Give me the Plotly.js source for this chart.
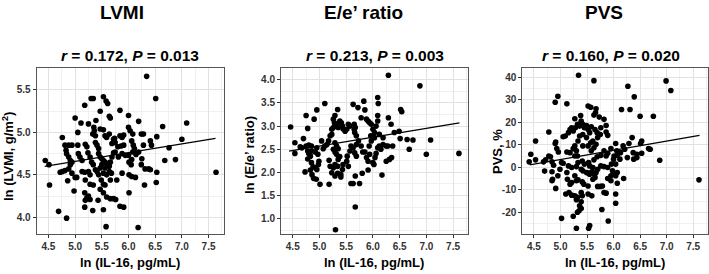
<!DOCTYPE html>
<html>
<head>
<meta charset="utf-8">
<script src="https://cdn.plot.ly/plotly-3.0.1.min.js"></script>
<style>html,body{margin:0;padding:0;background:#fff;}#chart{width:709px;height:274px;}</style>
</head>
<body>
<div id="chart"></div>
<script>
// ---------- data ----------
const panelTitles = ["LVMI", "E/e’ ratio", "PVS"];
const panelStats = ["<i>r</i> = 0.172, <i>P</i> = 0.013", "<i>r</i> = 0.213, <i>P</i> = 0.003", "<i>r</i> = 0.160, <i>P</i> = 0.020"];
const xAxisTitle = "ln (IL-16, pg/mL)";
const yAxisTitles = ["ln (LVMI, g/m<sup>2</sup>)", "ln (E/e’ ratio)", "PVS, %"];

const xTickVals = [4.5, 5.0, 5.5, 6.0, 6.5, 7.0, 7.5];
const xTickText = ["4.5", "5.0", "5.5", "6.0", "6.5", "7.0", "7.5"];
const lvmiTickVals = [4.0, 4.5, 5.0, 5.5];
const lvmiTickText = ["4.0", "4.5", "5.0", "5.5"];
const eeTickVals = [1.0, 1.5, 2.0, 2.5, 3.0, 3.5, 4.0];
const eeTickText = ["1.0", "1.5", "2.0", "2.5", "3.0", "3.5", "4.0"];
const pvsTickVals = [-20, -10, 0, 10, 20, 30, 40];
const pvsTickText = ["-20", "-10", "0", "10", "20", "30", "40"];

const lvmiX = [
6.34,6.51,5.30,5.34,5.53,5.58,5.61,5.18,5.47,5.84,
5.00,5.64,5.66,5.39,6.00,6.19,5.11,5.25,6.64,7.09,
5.35,5.36,5.33,5.38,5.47,5.53,5.56,5.59,5.64,5.72,
5.74,5.84,5.88,5.91,6.00,6.03,6.08,6.24,6.28,6.53,
7.00,5.05,4.76,4.81,4.88,4.94,5.05,5.19,5.22,5.38,
5.41,5.44,5.69,5.75,5.80,5.86,5.91,6.06,6.09,6.11,
6.08,6.28,6.41,6.43,6.19,6.14,6.76,4.44,4.51,4.83,
4.84,4.88,4.91,4.94,4.91,5.06,5.09,5.13,5.24,5.28,
5.31,5.34,5.44,5.47,5.50,5.53,5.56,5.59,5.61,5.64,
5.50,5.47,5.56,5.66,5.69,5.72,5.75,5.81,5.88,5.94,
6.00,6.01,6.05,6.06,6.25,6.24,6.68,6.88,4.72,4.76,
4.81,4.88,4.94,5.13,5.18,5.25,5.28,5.38,5.41,5.44,
5.53,5.59,5.64,5.68,5.88,6.06,6.13,6.31,6.38,6.41,
6.53,7.64,4.86,5.00,5.03,5.19,5.28,5.34,5.49,5.53,
5.56,5.66,5.78,6.01,6.52,6.30,4.52,4.98,5.18,5.47,
5.53,5.22,5.25,5.28,5.19,6.01,5.59,5.66,5.72,5.76,
5.43,5.18,5.33,5.53,5.84,5.91,4.69,4.84,5.58,6.18];
const lvmiY = [
5.66,5.40,5.40,5.40,5.42,5.37,5.34,5.32,5.25,5.26,
5.17,5.19,5.17,5.14,5.20,5.13,5.11,5.10,5.07,5.11,
5.06,5.02,4.98,4.96,5.04,5.03,4.96,4.94,4.98,4.92,
4.93,4.96,4.94,4.97,5.06,5.02,4.98,4.98,4.98,4.95,
4.92,5.00,4.94,4.85,4.85,4.85,4.85,4.86,4.83,4.88,
4.85,4.81,4.87,4.88,4.83,4.84,4.85,4.90,4.85,4.81,
4.77,4.85,4.90,4.85,4.77,4.74,4.82,4.67,4.62,4.79,
4.75,4.71,4.67,4.65,4.62,4.75,4.71,4.67,4.76,4.71,
4.65,4.62,4.75,4.71,4.69,4.67,4.65,4.63,4.62,4.60,
4.62,4.58,4.58,4.65,4.71,4.76,4.77,4.71,4.75,4.73,
4.73,4.65,4.62,4.68,4.69,4.62,4.67,4.68,4.53,4.54,
4.55,4.57,4.52,4.54,4.53,4.54,4.50,4.56,4.54,4.50,
4.52,4.50,4.54,4.52,4.52,4.48,4.47,4.57,4.57,4.56,
4.53,4.53,4.43,4.47,4.47,4.44,4.39,4.38,4.44,4.39,
4.38,4.44,4.44,4.50,4.41,4.38,4.38,4.31,4.29,4.33,
4.29,4.23,4.25,4.21,4.20,4.29,4.24,4.22,4.22,4.21,
4.20,4.12,4.08,4.09,4.13,4.12,4.07,3.99,3.89,3.88];

const eeX = [
6.29,6.88,4.46,4.54,4.54,4.70,4.75,4.78,4.90,4.95,
5.10,5.34,5.29,5.26,5.28,5.32,5.29,5.26,5.23,5.35,
5.38,5.41,5.43,5.44,5.48,5.51,5.54,5.57,5.65,5.65,
5.66,5.69,5.67,5.63,5.72,5.83,5.78,5.85,5.88,5.91,
5.94,5.97,6.00,6.03,6.09,6.10,6.09,6.09,6.06,6.12,
6.19,6.03,5.97,5.93,5.96,6.29,6.34,6.40,6.49,6.51,
6.52,6.54,6.64,6.75,6.68,7.08,7.00,7.61,4.80,4.85,
4.86,4.83,4.80,4.78,4.85,4.88,4.95,4.92,4.97,4.99,
4.98,4.92,4.95,4.86,4.83,4.73,4.89,4.94,5.01,5.07,
5.10,5.04,5.14,5.17,5.20,5.23,5.29,5.32,5.35,5.26,
5.29,5.32,5.38,5.35,5.29,5.34,5.26,5.20,5.18,5.23,
5.29,5.40,5.43,5.44,5.51,5.54,5.52,5.57,5.59,5.63,
5.66,5.69,5.69,5.73,5.78,5.81,5.85,5.88,5.91,5.94,
6.00,6.02,6.04,6.06,6.09,6.12,6.15,6.19,6.25,6.28,
6.37,6.25,6.31,6.35,6.17,5.91,5.80,5.18,5.34,5.40,
5.59,5.63,5.75,5.67,5.67,5.30,4.64,4.67,4.75,4.78];
const eeY = [
4.10,3.87,2.98,2.64,2.41,2.73,3.23,2.95,3.15,3.35,
3.49,3.36,3.23,3.15,3.07,3.04,3.00,2.97,2.93,2.97,
3.11,3.07,3.00,2.94,2.89,2.93,3.04,3.00,3.04,2.93,
2.86,2.79,2.97,3.47,3.40,3.54,3.18,3.35,3.15,3.11,
3.07,3.04,2.93,2.86,3.62,3.49,3.23,3.11,3.00,2.82,
2.75,2.75,2.68,2.57,2.79,3.18,3.04,2.86,2.89,2.73,
3.36,3.31,2.71,2.70,2.50,2.70,2.39,2.41,2.59,2.57,
2.46,2.35,2.41,2.29,2.21,2.12,2.53,2.44,2.39,2.24,
2.17,2.10,2.06,1.95,2.05,2.01,1.87,1.85,1.74,2.51,
2.57,2.68,2.60,2.68,2.79,2.82,2.64,2.57,2.51,2.50,
2.44,2.39,2.34,2.28,2.17,2.13,2.10,2.13,2.26,1.99,
1.92,1.95,2.06,2.17,2.24,2.13,2.35,2.46,2.57,2.53,
2.42,2.35,2.60,2.68,2.57,2.44,2.44,2.32,2.24,2.39,
2.21,2.17,2.32,2.41,2.53,2.57,2.50,2.60,2.57,2.57,
2.57,2.24,2.28,2.32,1.94,2.05,1.98,1.74,1.98,1.90,
1.76,1.76,1.76,1.92,1.25,0.76,2.55,2.53,2.57,2.46];

const pvsX = [
5.34,5.63,6.99,7.08,6.27,6.39,4.95,4.90,5.12,5.52,
5.57,5.67,5.66,5.63,5.73,6.15,6.31,6.50,6.75,5.38,
5.27,5.39,5.32,5.36,5.28,5.21,5.24,5.15,5.18,5.09,
5.05,4.78,5.42,5.49,5.45,5.52,5.55,5.58,5.65,5.69,
5.75,5.76,5.86,5.89,5.86,5.82,5.70,5.67,5.61,5.49,
5.42,5.36,5.33,5.27,5.24,5.30,5.42,5.52,5.57,5.58,
5.63,5.82,5.89,5.95,6.04,6.06,6.01,6.07,6.13,6.18,
6.21,6.29,6.35,6.37,6.44,6.53,6.51,6.53,6.66,6.69,
6.38,6.44,6.12,6.26,6.00,6.04,5.96,5.86,5.76,5.69,
5.63,5.53,5.45,5.41,5.33,5.32,5.27,5.18,5.12,4.96,
4.93,4.90,4.91,4.78,4.81,4.68,4.72,4.84,4.87,4.53,
4.44,4.53,4.41,5.02,5.05,5.15,5.21,5.30,5.39,5.42,
5.49,5.52,5.59,5.64,5.67,5.70,5.61,5.55,5.76,5.82,
5.89,5.98,4.70,4.84,4.84,4.85,4.91,4.95,4.99,5.12,
5.13,5.18,5.21,5.27,5.30,5.33,5.41,5.44,5.39,5.52,
5.55,5.61,5.65,5.70,5.75,5.79,5.82,5.86,5.89,5.95,
6.01,6.07,6.04,5.95,6.07,6.19,6.04,6.04,5.10,5.16,
5.21,5.27,5.32,5.41,5.52,5.59,5.30,5.39,5.36,5.32,
5.35,5.39,5.78,5.90,5.02,5.24,5.30,5.53,5.55,7.61,
6.87];
const pvsY = [
40.9,38.5,38.4,34.1,36.0,31.3,31.6,28.9,28.2,27.2,
26.7,26.0,24.2,23.2,22.3,25.7,25.7,22.7,22.7,23.0,
21.6,20.5,19.1,18.3,17.6,17.6,16.1,15.4,16.8,13.9,
13.6,15.7,19.1,18.6,17.6,16.8,15.4,18.0,16.8,15.4,
14.6,17.6,15.7,14.2,18.6,21.3,13.2,10.2,11.7,13.2,
14.6,13.9,11.7,9.5,8.3,7.3,9.5,9.5,10.9,7.3,
8.7,7.3,6.2,8.3,10.6,7.3,5.0,5.3,6.5,9.5,
8.0,10.6,13.2,6.5,5.8,6.2,10.6,11.7,8.3,8.0,
3.6,4.3,3.6,4.3,3.6,1.4,1.4,5.0,5.3,4.7,
3.3,2.1,1.4,2.8,2.1,5.0,5.0,6.5,6.8,6.8,
8.3,10.6,11.2,5.0,4.7,2.4,3.3,2.4,0.9,3.3,
5.8,11.7,2.4,2.1,1.8,0.6,-0.1,0.3,-0.9,-1.6,
-2.3,-2.6,-2.0,-3.1,-2.3,-0.9,-0.1,0.6,0.6,0.3,
-0.1,-1.6,-1.7,-2.0,-6.0,-5.3,-9.4,-3.8,-0.9,-2.3,
-5.3,-7.5,-6.8,-3.8,-6.0,-5.6,-6.5,-7.5,-11.2,-8.3,
-3.1,-5.3,-4.5,-8.5,-8.5,-8.3,-11.2,-11.5,-5.0,-3.8,
-3.1,-2.3,-3.8,-6.0,-7.1,-5.0,-11.9,-16.0,-11.9,-11.2,
-12.4,-12.7,-13.4,-12.7,-11.9,-12.7,-14.4,-15.3,-17.1,-20.0,
-19.3,-18.3,-18.8,-23.9,-22.7,-21.8,-27.1,-27.1,-25.9,-5.6,
3.1];

// fitted regression lines (end points)
const lvmiFitX = [4.43, 7.63];
const lvmiFitY = [4.60, 4.93];
const eeFitX = [4.43, 7.62];
const eeFitY = [2.46, 3.07];
const pvsFitX = [4.42, 7.62];
const pvsFitY = [1.1, 14.2];

// ---------- drawing ----------
const FONT = "'Liberation Sans', Arial, Helvetica, sans-serif";
const W = 709, H = 274;
const px = v => v / W;
const py = v => 1 - v / H;

function pts(x, y, xa, ya) {
  return {x, y, xaxis: xa, yaxis: ya, type: 'scatter', mode: 'markers', hoverinfo: 'skip',
    marker: {size: 5.6, color: '#000', line: {width: 0}}};
}
function fit(x, y, xa, ya) {
  return {x, y, xaxis: xa, yaxis: ya, type: 'scatter', mode: 'lines', hoverinfo: 'skip',
    line: {color: '#000', width: 1.2}};
}

const data = [
  pts(lvmiX, lvmiY, 'x', 'y'), fit(lvmiFitX, lvmiFitY, 'x', 'y'),
  pts(eeX, eeY, 'x2', 'y2'), fit(eeFitX, eeFitY, 'x2', 'y2'),
  pts(pvsX, pvsY, 'x3', 'y3'), fit(pvsFitX, pvsFitY, 'x3', 'y3')
];

function axisCommon(tickvals, ticktext, minorDtick, minorTick0) {
  return {
    tickmode: 'array', tickvals, ticktext,
    ticks: 'outside', ticklen: 3, tickwidth: 1, tickcolor: '#333',
    tickfont: {family: FONT, size: 10, color: '#333', weight: 'bold'},
    showline: true, mirror: true, linecolor: '#555', linewidth: 1,
    showgrid: true, gridcolor: '#e2e2e2', gridwidth: 1, zeroline: false,
    minor: {tickmode: 'linear', tick0: minorTick0, dtick: minorDtick, showgrid: true, gridcolor: '#f1f1f1', gridwidth: 1, ticks: ''},
    automargin: false, fixedrange: true
  };
}

const yDomain = [1 - 234.3 / H, 1 - 68.3 / H];
const xRange = [4.28, 7.78];

const layout = {
  width: W, height: H,
  margin: {l: 0, r: 0, t: 0, b: 0},
  paper_bgcolor: '#fff', plot_bgcolor: '#fff',
  showlegend: false,
  font: {family: FONT, color: '#000'},
  xaxis:  Object.assign(axisCommon(xTickVals, xTickText, 0.5, 4.25), {domain: [px(36.7), px(223.5)], range: xRange, anchor: 'y'}),
  xaxis2: Object.assign(axisCommon(xTickVals, xTickText, 0.5, 4.25), {domain: [px(281), px(468)], range: xRange, anchor: 'y2'}),
  xaxis3: Object.assign(axisCommon(xTickVals, xTickText, 0.5, 4.25), {domain: [px(522.3), px(708)], range: xRange, anchor: 'y3'}),
  yaxis:  Object.assign(axisCommon(lvmiTickVals, lvmiTickText, 0.5, 3.75), {domain: yDomain, range: [3.80, 5.755], anchor: 'x'}),
  yaxis2: Object.assign(axisCommon(eeTickVals, eeTickText, 0.5, 0.75), {domain: yDomain, range: [0.66, 4.25], anchor: 'x2'}),
  yaxis3: Object.assign(axisCommon(pvsTickVals, pvsTickText, 10, -25), {domain: yDomain, range: [-29.8, 44.0], anchor: 'x3'}),
  annotations: []
};

const titleX = [122, 363, 604];
const statX = [129.5, 375, 611];
const plotCX = [130, 374.5, 615.4];
const yTitleX = [8, 249, 497];
const yTitleY = [157, 155, 152];

for (let i = 0; i < 3; i++) {
  layout.annotations.push({
    text: '<b>' + panelTitles[i] + '</b>', xref: 'paper', yref: 'paper',
    x: px(titleX[i]), y: py(12.5), xanchor: 'center', yanchor: 'middle', showarrow: false,
    font: {family: FONT, size: 19, color: '#000'}
  });
  layout.annotations.push({
    text: '<b>' + panelStats[i] + '</b>', xref: 'paper', yref: 'paper',
    x: px(statX[i]), y: py(55), xanchor: 'center', yanchor: 'middle', showarrow: false,
    font: {family: FONT, size: 15.5, color: '#000'}
  });
  layout.annotations.push({
    text: '<b>' + xAxisTitle + '</b>', xref: 'paper', yref: 'paper',
    x: px(plotCX[i]), y: py(262), xanchor: 'center', yanchor: 'middle', showarrow: false,
    font: {family: FONT, size: 13, color: '#000'}
  });
  layout.annotations.push({
    text: '<b>' + yAxisTitles[i] + '</b>', xref: 'paper', yref: 'paper',
    x: px(yTitleX[i]), y: py(yTitleY[i]), xanchor: 'center', yanchor: 'middle', showarrow: false,
    textangle: -90,
    font: {family: FONT, size: 13, color: '#000'}
  });
}

Plotly.newPlot('chart', data, layout, {displayModeBar: false, staticPlot: true});
</script>
</body>
</html>
